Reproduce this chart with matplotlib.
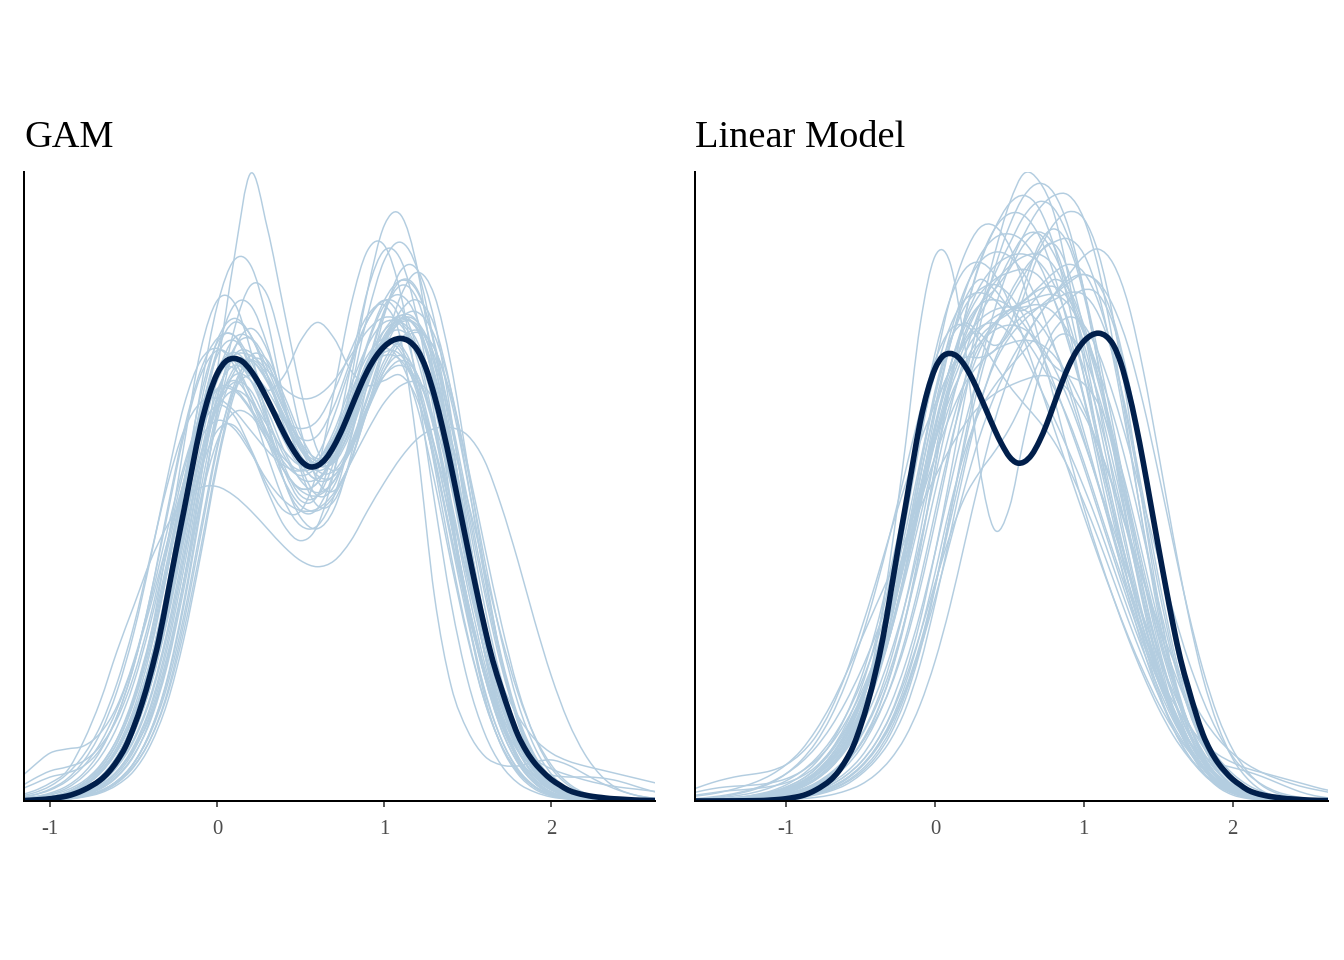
import numpy as np
import matplotlib
matplotlib.use("Agg")
import matplotlib.pyplot as plt
from matplotlib.path import Path
from matplotlib.patches import PathPatch

plt.rcParams['font.family'] = ['Liberation Serif', 'DejaVu Serif']

# densities are stored as density * 786
DENSITY_SCALE = 786.0

TITLES = ["GAM", "Linear Model"]
TICKS = [-1, 0, 1, 2]
TICK_LABELS = ["-1", "0", "1", "2"]

# observed data density (dark line), grid -1.65 .. 2.65 step 0.05
OBS_X = np.round(np.linspace(-1.65, 2.65, 87), 2)
OBS_Y = [0.02, 0.03, 0.04, 0.05, 0.07, 0.1, 0.13, 0.18, 0.25, 0.35,
         0.5, 1, 1.5, 2.3, 3.5, 5, 7.5, 11, 15.5, 21,
         29, 40, 54, 74, 98, 127, 161, 204, 248, 290,
         333, 374, 405, 427, 439, 442, 439, 430, 417, 401,
         384, 367, 352, 340, 334, 335, 342, 355, 372, 392,
         412, 430, 444, 454, 460, 462, 459, 450, 432, 405,
         372, 334, 293, 252, 212, 174, 140, 113, 88, 66,
         50, 38, 29, 21.5, 16, 11, 8, 6, 4.5, 3.5,
         2.5, 2, 1.5, 1, 0.7, 0.5, 0.35]

# GAM replicated densities, grid -1.2 .. 2.7 step 0.1
GAM_X = np.round(np.linspace(-1.2, 2.7, 40), 2)
GAM_REPS = [
    [2, 4, 8, 15, 28, 50, 85, 135, 205, 290, 370, 430, 462, 465, 440, 400, 360, 335, 340, 370, 415, 455, 478, 475, 440, 370, 285, 200, 130, 78, 44, 24, 13, 7, 4, 2, 1, 0.5, 0.3, 0.2],
    [0.5, 1, 2, 4, 8, 16, 30, 52, 85, 140, 220, 320, 430, 541, 627, 572, 490, 410, 350, 330, 350, 390, 425, 440, 425, 375, 300, 220, 150, 95, 56, 30, 15, 7, 3, 1.5, 0.8, 0.4, 0.2, 0.1],
    [1, 2, 4, 8, 15, 28, 50, 85, 140, 215, 310, 410, 495, 540, 535, 480, 400, 330, 295, 300, 340, 395, 440, 460, 445, 395, 320, 240, 165, 105, 62, 34, 17, 8, 4, 2, 1, 0.5, 0.3, 0.2],
    [5, 10, 18, 30, 60, 100, 150, 195, 240, 275, 300, 313, 314, 305, 290, 272, 254, 240, 234, 240, 260, 290, 318, 343, 362, 372, 373, 365, 340, 295, 240, 180, 125, 80, 47, 25, 12, 6, 3, 1.5],
    [1, 2, 4, 9, 18, 35, 62, 105, 165, 240, 320, 390, 430, 440, 425, 400, 380, 372, 380, 410, 450, 485, 495, 460, 350, 205, 115, 70, 45, 36, 35, 39, 41, 36, 27, 18, 11, 6, 3, 1.5],
    [0.5, 1, 2, 5, 11, 22, 42, 75, 125, 190, 265, 330, 370, 375, 350, 310, 275, 260, 275, 330, 420, 510, 575, 585, 530, 420, 295, 185, 105, 55, 27, 12, 5, 2, 1, 0.5, 0.2, 0.1, 0.1, 0.1],
    [20, 35, 48, 52, 55, 68, 95, 140, 200, 270, 335, 385, 410, 410, 390, 360, 330, 310, 305, 320, 355, 395, 425, 435, 420, 380, 315, 240, 165, 105, 60, 32, 16, 8, 4, 2, 1, 0.5, 0.3, 0.2],
    [0.2, 0.5, 1, 2, 5, 10, 20, 38, 70, 122, 200, 295, 385, 450, 472, 450, 395, 335, 305, 315, 365, 435, 490, 520, 510, 455, 365, 265, 175, 105, 58, 30, 14, 6, 3, 1.5, 0.7, 0.3, 0.2, 0.1],
    [4, 8, 15, 27, 46, 75, 118, 175, 245, 315, 370, 398, 402, 390, 370, 350, 335, 330, 345, 385, 435, 480, 500, 480, 420, 335, 245, 165, 100, 56, 29, 14, 6, 3, 1.5, 0.7, 0.3, 0.2, 0.1, 0.1],
    [1, 2, 4, 8, 16, 30, 52, 88, 140, 210, 290, 365, 420, 445, 445, 430, 412, 402, 405, 420, 445, 470, 483, 478, 450, 395, 315, 228, 150, 90, 50, 25, 12, 5, 2, 1, 0.5, 0.2, 0.1, 0.1],
    [1, 2, 4, 8, 16, 30, 54, 92, 150, 228, 318, 405, 458, 465, 430, 375, 320, 283, 272, 292, 345, 418, 485, 530, 530, 480, 385, 275, 175, 100, 52, 25, 11, 5, 2, 1, 0.5, 0.2, 0.1, 0.1],
    [0.5, 1, 3, 6, 12, 24, 45, 80, 132, 200, 275, 345, 392, 410, 400, 375, 350, 335, 340, 365, 400, 430, 445, 440, 410, 355, 290, 225, 165, 118, 85, 62, 48, 40, 35, 31, 27, 23, 19, 15],
    [0.3, 0.6, 1.2, 2.5, 5, 10, 20, 38, 68, 115, 185, 272, 355, 410, 425, 410, 380, 352, 340, 350, 385, 430, 462, 470, 450, 398, 322, 240, 162, 100, 56, 29, 14, 6, 2.5, 1, 0.4, 0.2, 0.1, 0.1],
    [0.2, 0.4, 1, 2.5, 6, 12, 24, 45, 82, 140, 220, 310, 390, 432, 440, 418, 382, 350, 335, 345, 378, 420, 458, 478, 475, 440, 375, 292, 208, 135, 80, 44, 22, 10, 5, 2, 1, 0.5, 0.2, 0.1],
    [0.5, 1, 2, 5, 10, 20, 38, 68, 115, 185, 275, 370, 450, 495, 495, 455, 395, 340, 322, 345, 395, 440, 458, 448, 405, 340, 265, 190, 125, 76, 42, 22, 11, 5, 2.5, 1, 0.5, 0.2, 0.1, 0.1],
    [1, 2, 4, 8, 15, 28, 50, 85, 135, 200, 275, 345, 395, 418, 410, 375, 330, 300, 305, 355, 435, 510, 550, 540, 480, 385, 280, 185, 112, 62, 31, 14, 6, 2.5, 1, 0.5, 0.2, 0.1, 0.1, 0.1],
    [0.5, 1, 2, 4, 9, 18, 34, 60, 102, 165, 245, 330, 395, 425, 420, 390, 350, 320, 308, 320, 352, 395, 435, 462, 470, 452, 405, 335, 255, 178, 112, 64, 33, 16, 7, 3, 1.5, 0.6, 0.3, 0.1],
    [12, 22, 30, 34, 40, 55, 82, 125, 185, 258, 330, 385, 412, 412, 392, 365, 342, 330, 336, 362, 400, 438, 460, 455, 420, 355, 275, 195, 125, 72, 38, 18, 8, 3.5, 1.5, 0.6, 0.3, 0.1, 0.1, 0.1],
    [1, 2, 4, 8, 16, 32, 58, 100, 165, 255, 355, 450, 500, 498, 450, 380, 320, 290, 292, 330, 395, 455, 495, 505, 480, 415, 325, 230, 148, 86, 45, 21, 9, 4, 1.5, 0.6, 0.3, 0.1, 0.1, 0.1],
    [0.5, 1, 2, 5, 10, 20, 38, 68, 115, 180, 260, 345, 410, 435, 425, 410, 425, 460, 478, 462, 430, 415, 420, 425, 400, 340, 260, 180, 110, 62, 32, 15, 7, 3, 1.5, 0.6, 0.3, 0.1, 0.1, 0.1],
    [2, 4, 7, 13, 25, 44, 74, 118, 178, 250, 320, 372, 395, 385, 352, 315, 290, 290, 330, 410, 495, 550, 555, 505, 410, 300, 198, 120, 68, 36, 18, 9, 4, 2, 1, 0.5, 0.2, 0.1, 0.1, 0.1],
    [0.3, 0.6, 1.5, 3, 7, 14, 27, 50, 88, 145, 220, 300, 360, 388, 385, 360, 330, 312, 318, 350, 402, 458, 500, 520, 508, 458, 378, 285, 195, 122, 70, 37, 18, 8, 3.5, 1.5, 0.6, 0.3, 0.1, 0.1],
    [1, 2, 4, 8, 15, 28, 50, 86, 140, 212, 295, 372, 425, 440, 420, 382, 345, 322, 322, 345, 385, 425, 448, 445, 412, 352, 278, 200, 132, 82, 50, 33, 26, 24, 24, 23, 20, 15, 10, 6],
    [10, 17, 24, 28, 35, 52, 85, 135, 205, 285, 365, 425, 450, 440, 405, 365, 330, 312, 318, 350, 395, 435, 452, 438, 392, 320, 238, 162, 100, 56, 29, 14, 6, 2.5, 1, 0.5, 0.2, 0.1, 0.1, 0.1],
    [0.5, 1, 2.5, 5, 11, 22, 42, 76, 128, 205, 300, 395, 460, 482, 465, 425, 385, 362, 365, 395, 440, 480, 500, 492, 450, 375, 285, 198, 125, 72, 38, 18, 8, 3.5, 1.5, 0.6, 0.3, 0.1, 0.1, 0.1],
    [3, 6, 11, 20, 35, 58, 92, 138, 195, 258, 318, 362, 380, 372, 348, 320, 300, 290, 292, 308, 338, 370, 398, 415, 418, 400, 360, 300, 232, 165, 108, 65, 36, 18, 8, 3.5, 1.5, 0.6, 0.3, 0.1],
    [0.5, 1, 2, 4.5, 9, 18, 35, 62, 105, 170, 252, 338, 400, 420, 400, 360, 320, 295, 290, 305, 340, 392, 452, 505, 528, 505, 435, 335, 232, 142, 78, 38, 17, 7, 3, 1, 0.5, 0.2, 0.1, 0.1],
    [0.2, 0.5, 1, 2, 5, 10, 20, 38, 70, 120, 195, 290, 390, 470, 515, 505, 445, 370, 320, 310, 340, 390, 430, 445, 425, 370, 295, 212, 138, 82, 44, 21, 9, 4, 1.5, 0.6, 0.3, 0.1, 0.1, 0.1],
    [2, 3.5, 6, 11, 20, 36, 62, 102, 160, 235, 315, 385, 428, 432, 405, 368, 338, 325, 335, 365, 408, 445, 462, 452, 412, 345, 265, 190, 128, 85, 58, 42, 32, 26, 21, 17, 14, 12, 10, 8],
    [0.5, 1, 2.5, 5, 11, 22, 42, 75, 125, 198, 290, 385, 445, 460, 435, 385, 335, 305, 305, 340, 410, 485, 540, 558, 530, 455, 350, 240, 148, 82, 42, 19, 8, 3, 1.2, 0.5, 0.2, 0.1, 0.1, 0.1],
    [0.2, 0.4, 0.9, 2, 4.5, 9, 18, 34, 62, 108, 178, 265, 352, 415, 440, 425, 390, 355, 335, 340, 375, 425, 465, 482, 470, 425, 350, 262, 178, 110, 62, 32, 15, 6.5, 2.5, 1, 0.4, 0.2, 0.1, 0.1],
    [0.2, 0.4, 0.8, 1.8, 4, 8, 16, 30, 56, 98, 162, 245, 335, 405, 440, 435, 400, 358, 330, 330, 358, 405, 455, 490, 500, 475, 410, 320, 225, 145, 85, 46, 23, 10, 4, 1.5, 0.6, 0.2, 0.1, 0.1],
    [0.3, 0.7, 1.5, 3, 6.5, 13, 25, 46, 80, 135, 212, 300, 380, 428, 440, 420, 385, 352, 335, 340, 372, 420, 462, 485, 478, 435, 360, 270, 182, 110, 60, 30, 14, 6, 2.5, 1, 0.4, 0.2, 0.1, 0.1],
    [0.5, 1, 2.5, 5.5, 12, 24, 45, 80, 132, 205, 295, 385, 450, 478, 465, 425, 375, 338, 320, 325, 352, 392, 430, 458, 468, 452, 400, 318, 225, 142, 80, 40, 18, 7, 3, 1, 0.4, 0.2, 0.1, 0.1],
    [1, 2, 4, 9, 18, 33, 58, 98, 155, 230, 312, 385, 432, 448, 432, 398, 362, 338, 335, 355, 395, 440, 470, 478, 458, 405, 325, 238, 158, 95, 52, 26, 12, 5, 2, 0.8, 0.3, 0.1, 0.1, 0.1],
    [3, 6, 12, 22, 40, 68, 110, 168, 242, 322, 395, 440, 452, 435, 395, 345, 300, 275, 275, 305, 362, 430, 488, 515, 500, 440, 345, 240, 148, 82, 40, 18, 7, 3, 1, 0.4, 0.2, 0.1, 0.1, 0.1],
    [0.5, 1, 2, 4.5, 10, 20, 38, 68, 115, 182, 268, 355, 425, 462, 462, 432, 392, 358, 342, 350, 382, 425, 462, 482, 478, 445, 382, 300, 215, 140, 82, 44, 21, 9, 4, 1.5, 0.6, 0.2, 0.1, 0.1],
    [0.2, 0.5, 1, 2.2, 5, 10, 19, 35, 62, 105, 170, 252, 340, 410, 445, 440, 405, 365, 338, 338, 368, 415, 458, 480, 472, 428, 352, 262, 176, 106, 58, 28, 12, 5, 2, 0.8, 0.3, 0.1, 0.1, 0.1],
    [0.3, 0.7, 1.5, 3.5, 7.5, 15, 29, 53, 92, 152, 232, 322, 402, 452, 462, 438, 395, 352, 325, 325, 355, 402, 450, 482, 488, 465, 410, 330, 242, 162, 98, 54, 27, 12, 5, 2, 0.8, 0.3, 0.1, 0.1],
    [0.5, 1, 2, 4, 8, 16, 30, 55, 95, 158, 240, 330, 405, 445, 448, 420, 380, 345, 330, 342, 380, 430, 470, 485, 470, 420, 342, 255, 172, 105, 58, 29, 13, 5.5, 2.2, 0.9, 0.4, 0.2, 0.1, 0.1],
]

# Linear model replicated densities, grid -1.7 .. 2.7 step 0.1
LM_X = np.round(np.linspace(-1.7, 2.7, 45), 2)
LM_REPS = [
    [0.5, 1, 1.5, 2, 3, 5, 8, 12, 18, 28, 42, 62, 90, 125, 170, 225, 290, 355, 410, 450, 480, 505, 535, 558, 560, 540, 505, 465, 425, 380, 325, 262, 198, 140, 92, 57, 33, 18, 9, 4.5, 2, 1, 0.5, 0.2, 0.1],
    [0.1, 0.2, 0.4, 0.7, 1.2, 2, 3.5, 6, 10, 16, 25, 38, 56, 80, 112, 155, 210, 275, 345, 415, 480, 540, 590, 620, 612, 580, 515, 435, 355, 282, 215, 158, 110, 72, 45, 27, 15, 8, 4, 2, 1, 0.5, 0.2, 0.1, 0.1],
    [0.2, 0.4, 0.7, 1.2, 2, 3.5, 6, 10, 16, 25, 38, 58, 90, 150, 240, 350, 470, 538, 532, 450, 330, 268, 290, 360, 420, 455, 460, 440, 400, 345, 280, 210, 145, 92, 54, 29, 14, 6, 2.5, 1, 0.5, 0.2, 0.1, 0.1, 0.1],
    [0.3, 0.5, 0.8, 1.3, 2, 3.5, 6, 9, 14, 22, 33, 50, 73, 104, 145, 195, 255, 320, 385, 440, 485, 520, 550, 578, 592, 585, 555, 505, 440, 368, 292, 220, 155, 102, 62, 35, 18, 9, 4, 2, 1, 0.4, 0.2, 0.1, 0.1],
    [0.1, 0.2, 0.3, 0.5, 0.9, 1.5, 2.5, 4, 7, 11, 18, 28, 43, 65, 95, 135, 185, 245, 310, 372, 425, 465, 495, 520, 545, 570, 582, 575, 540, 475, 385, 288, 198, 125, 72, 38, 18, 8, 3.5, 1.5, 0.6, 0.3, 0.1, 0.1, 0.1],
    [8, 13, 18, 22, 25, 27, 30, 36, 47, 64, 90, 125, 168, 215, 265, 312, 355, 392, 425, 452, 468, 472, 462, 440, 410, 378, 345, 310, 272, 230, 188, 148, 112, 80, 54, 34, 20, 11, 5.5, 2.5, 1, 0.5, 0.2, 0.1, 0.1],
    [0.5, 0.8, 1.2, 2, 3, 5, 8, 12, 19, 29, 44, 65, 95, 135, 185, 248, 318, 390, 450, 495, 515, 505, 488, 485, 500, 515, 505, 470, 418, 355, 288, 222, 162, 112, 72, 44, 25, 13, 6.5, 3, 1.3, 0.6, 0.2, 0.1, 0.1],
    [0.1, 0.1, 0.2, 0.3, 0.5, 0.8, 1.3, 2, 3.5, 6, 10, 16, 26, 40, 60, 90, 135, 195, 262, 330, 390, 435, 465, 480, 488, 495, 502, 500, 480, 438, 375, 300, 222, 152, 96, 56, 30, 15, 7, 3, 1.2, 0.5, 0.2, 0.1, 0.1],
    [1.5, 2.5, 4, 6, 9, 13, 19, 27, 38, 53, 73, 98, 128, 163, 203, 248, 295, 340, 380, 412, 432, 445, 452, 455, 452, 440, 418, 388, 350, 308, 262, 218, 176, 140, 108, 82, 62, 47, 36, 28, 22, 17, 13, 10, 7],
    [0.3, 0.5, 0.9, 1.5, 2.5, 4, 7, 11, 18, 28, 44, 66, 97, 138, 190, 255, 328, 400, 460, 505, 532, 542, 538, 520, 490, 450, 405, 358, 310, 262, 215, 170, 128, 92, 62, 40, 24, 14, 7, 3.5, 1.6, 0.7, 0.3, 0.1, 0.1],
    [0.2, 0.4, 0.7, 1.2, 2, 3.2, 5, 8, 13, 21, 33, 52, 80, 120, 175, 245, 320, 385, 425, 438, 438, 445, 470, 510, 550, 565, 548, 500, 430, 350, 270, 198, 138, 90, 56, 32, 17, 8.5, 4, 1.8, 0.8, 0.3, 0.1, 0.1, 0.1],
    [3, 5, 7, 10, 14, 19, 26, 36, 50, 70, 95, 125, 158, 192, 225, 258, 290, 320, 348, 372, 390, 402, 410, 416, 420, 418, 405, 382, 350, 310, 265, 218, 172, 130, 94, 65, 43, 27, 16, 9, 5, 2.5, 1.2, 0.6, 0.3],
    [0.2, 0.3, 0.5, 0.9, 1.5, 2.5, 4, 6.5, 10, 16, 25, 38, 57, 85, 125, 180, 250, 330, 410, 478, 530, 565, 590, 598, 585, 548, 490, 420, 350, 285, 225, 170, 122, 83, 53, 32, 18, 9.5, 4.5, 2, 0.9, 0.4, 0.2, 0.1, 0.1],
    [0.1, 0.1, 0.2, 0.3, 0.6, 1, 1.7, 3, 5, 8, 13, 21, 33, 50, 74, 108, 150, 200, 255, 310, 360, 400, 432, 458, 480, 500, 515, 520, 512, 488, 448, 392, 325, 255, 188, 130, 84, 51, 29, 15, 7.5, 3.5, 1.5, 0.6, 0.3],
    [0.5, 0.9, 1.5, 2.5, 4, 6.5, 10, 16, 25, 38, 57, 84, 120, 168, 228, 295, 362, 422, 468, 495, 502, 495, 478, 458, 435, 408, 375, 335, 290, 245, 202, 160, 122, 88, 60, 38, 22, 12, 6, 2.8, 1.2, 0.5, 0.2, 0.1, 0.1],
    [0.3, 0.5, 0.8, 1.3, 2.2, 3.5, 5.5, 9, 14, 22, 35, 54, 82, 122, 178, 250, 330, 405, 455, 472, 462, 450, 462, 500, 540, 550, 522, 465, 392, 315, 245, 182, 130, 88, 57, 34, 19, 10, 5, 2.3, 1, 0.4, 0.2, 0.1, 0.1],
    [0.5, 1, 1.5, 2.5, 4, 6, 9, 14, 21, 32, 48, 70, 100, 140, 190, 248, 310, 370, 420, 455, 475, 485, 488, 485, 472, 448, 412, 365, 312, 258, 208, 165, 128, 98, 75, 58, 46, 38, 32, 28, 24, 20, 16, 12, 9],
    [0.2, 0.3, 0.5, 0.8, 1.3, 2, 3.3, 5.5, 9, 14, 22, 34, 52, 78, 113, 160, 218, 285, 350, 405, 445, 470, 485, 495, 508, 522, 530, 522, 492, 440, 370, 290, 212, 145, 92, 55, 30, 15, 7, 3, 1.2, 0.5, 0.2, 0.1, 0.1],
    [0.2, 0.4, 0.7, 1.2, 2, 3.5, 6, 10, 16, 26, 41, 63, 95, 140, 200, 275, 355, 430, 495, 540, 566, 568, 548, 508, 455, 398, 342, 290, 243, 200, 160, 124, 92, 65, 44, 28, 17, 9.5, 5, 2.5, 1.2, 0.5, 0.2, 0.1, 0.1],
    [0.1, 0.1, 0.2, 0.4, 0.7, 1.2, 2, 3.3, 5.5, 9, 14, 22, 34, 52, 78, 115, 165, 225, 290, 345, 385, 410, 428, 445, 462, 480, 495, 505, 500, 470, 410, 330, 245, 165, 102, 58, 30, 14, 6, 2.5, 1, 0.4, 0.2, 0.1, 0.1],
    [6, 9, 12, 14, 15, 16, 18, 22, 29, 40, 56, 78, 106, 142, 186, 238, 298, 360, 415, 458, 490, 512, 528, 538, 540, 528, 498, 452, 395, 332, 268, 206, 150, 104, 68, 42, 24, 13, 6.5, 3, 1.3, 0.5, 0.2, 0.1, 0.1],
    [0.1, 0.2, 0.3, 0.5, 0.9, 1.5, 2.5, 4, 6.5, 10, 16, 25, 38, 57, 84, 120, 165, 215, 262, 300, 325, 345, 368, 398, 435, 465, 478, 470, 442, 400, 350, 295, 240, 188, 140, 100, 68, 44, 27, 16, 9, 5, 2.5, 1.2, 0.6],
    [0.3, 0.5, 0.8, 1.3, 2.2, 3.5, 5.5, 9, 14, 22, 34, 52, 78, 115, 165, 230, 305, 382, 450, 502, 538, 556, 560, 552, 530, 495, 450, 398, 342, 285, 230, 178, 132, 93, 62, 39, 23, 13, 6.5, 3, 1.4, 0.6, 0.2, 0.1, 0.1],
    [0.4, 0.7, 1.1, 1.8, 2.8, 4.4, 7, 11, 17, 26, 39, 58, 85, 120, 165, 220, 280, 340, 392, 432, 458, 472, 482, 494, 505, 508, 495, 462, 412, 350, 285, 222, 165, 117, 78, 49, 29, 16, 8, 4, 1.8, 0.8, 0.3, 0.1, 0.1],
    [0.1, 0.1, 0.2, 0.3, 0.5, 0.9, 1.5, 2.5, 4, 7, 11, 18, 28, 43, 66, 100, 148, 210, 282, 358, 428, 485, 528, 560, 585, 598, 598, 575, 525, 450, 360, 268, 185, 118, 70, 38, 19, 9, 4, 1.6, 0.6, 0.2, 0.1, 0.1, 0.1],
    [1, 1.8, 3, 5, 8, 12, 18, 27, 40, 58, 83, 116, 158, 208, 265, 325, 385, 435, 465, 470, 455, 432, 410, 392, 375, 355, 328, 295, 258, 218, 178, 140, 105, 75, 51, 33, 20, 11, 6, 3, 1.4, 0.6, 0.3, 0.1, 0.1],
    [0.1, 0.1, 0.1, 0.2, 0.3, 0.5, 0.8, 1.3, 2.2, 3.6, 6, 10, 16, 26, 41, 63, 95, 138, 192, 255, 318, 375, 420, 455, 480, 500, 520, 538, 545, 530, 490, 425, 345, 262, 186, 122, 75, 42, 22, 10, 4.5, 1.8, 0.7, 0.3, 0.1],
    [0.3, 0.6, 1, 1.6, 2.6, 4.2, 6.7, 10.5, 16, 25, 38, 57, 84, 120, 168, 228, 298, 368, 428, 472, 500, 515, 522, 525, 518, 495, 455, 400, 338, 275, 215, 162, 118, 84, 60, 45, 37, 33, 29, 24, 18, 12, 7, 4, 2],
    [0.3, 0.6, 1, 1.7, 2.8, 4.5, 7, 11, 17, 26, 40, 60, 88, 126, 176, 238, 305, 372, 428, 468, 490, 495, 488, 470, 448, 430, 420, 412, 392, 355, 302, 240, 178, 122, 78, 46, 25, 13, 6, 2.7, 1.1, 0.4, 0.2, 0.1, 0.1],
    [0.1, 0.2, 0.3, 0.5, 0.8, 1.3, 2.2, 3.6, 6, 10, 16, 25, 38, 57, 85, 125, 178, 245, 320, 398, 468, 525, 568, 598, 610, 600, 565, 505, 428, 345, 265, 193, 133, 86, 52, 29, 15, 7.5, 3.4, 1.5, 0.6, 0.2, 0.1, 0.1, 0.1],
    [0.3, 0.5, 0.9, 1.5, 2.4, 3.8, 6, 9.5, 15, 23, 36, 55, 82, 118, 165, 225, 295, 365, 428, 475, 508, 528, 538, 540, 532, 510, 472, 420, 358, 292, 228, 170, 122, 83, 54, 33, 19, 10, 5, 2.3, 1, 0.4, 0.2, 0.1, 0.1],
    [0.2, 0.4, 0.6, 1, 1.7, 2.8, 4.5, 7.2, 11.5, 18, 28, 42, 63, 92, 130, 180, 240, 305, 365, 415, 450, 472, 485, 492, 498, 500, 490, 462, 418, 360, 295, 230, 170, 118, 78, 48, 28, 15, 7.5, 3.5, 1.5, 0.6, 0.2, 0.1, 0.1],
    [0.2, 0.3, 0.5, 0.9, 1.5, 2.5, 4, 6.5, 10.5, 17, 27, 42, 64, 95, 138, 195, 265, 342, 412, 462, 490, 505, 525, 550, 562, 548, 505, 445, 375, 305, 238, 178, 127, 86, 55, 33, 19, 10, 4.8, 2.2, 1, 0.4, 0.2, 0.1, 0.1],
    [1, 1.6, 2.6, 4, 6, 9, 13.5, 20, 29, 42, 60, 84, 115, 154, 200, 252, 305, 355, 398, 430, 452, 465, 470, 466, 452, 428, 395, 355, 312, 268, 224, 182, 143, 108, 78, 54, 35, 22, 13, 7, 3.5, 1.7, 0.8, 0.4, 0.2],
    [0.1, 0.2, 0.4, 0.7, 1.2, 2, 3.4, 5.6, 9, 15, 24, 37, 56, 84, 124, 178, 248, 328, 408, 478, 532, 565, 580, 578, 558, 520, 465, 398, 328, 262, 202, 150, 106, 72, 46, 28, 16, 8.5, 4.2, 2, 0.9, 0.4, 0.2, 0.1, 0.1],
    [0.1, 0.2, 0.3, 0.5, 0.8, 1.3, 2.1, 3.4, 5.5, 9, 14, 22, 34, 51, 76, 110, 155, 212, 275, 338, 392, 432, 458, 475, 488, 500, 512, 520, 510, 475, 415, 338, 255, 178, 115, 68, 37, 18, 8.5, 3.7, 1.5, 0.6, 0.2, 0.1, 0.1],
    [0.4, 0.7, 1.2, 2, 3.2, 5, 8, 12.5, 19, 29, 45, 68, 100, 144, 200, 265, 335, 400, 452, 488, 505, 510, 500, 478, 448, 412, 372, 330, 285, 240, 196, 155, 118, 86, 60, 40, 25, 15, 8, 4, 2, 0.9, 0.4, 0.2, 0.1],
    [0.1, 0.1, 0.2, 0.4, 0.6, 1, 1.7, 2.8, 4.6, 7.5, 12, 19, 30, 46, 70, 105, 152, 212, 282, 352, 415, 465, 500, 525, 542, 552, 555, 540, 500, 435, 355, 270, 192, 127, 78, 44, 23, 11, 5, 2, 0.8, 0.3, 0.1, 0.1, 0.1],
    [4, 6, 8, 10, 11, 12.5, 14.5, 18, 24, 34, 50, 72, 102, 140, 186, 240, 298, 355, 405, 442, 465, 478, 485, 488, 490, 482, 462, 428, 380, 322, 260, 200, 146, 102, 67, 42, 25, 14, 7, 3.4, 1.5, 0.6, 0.2, 0.1, 0.1],
    [0.4, 0.7, 1.2, 2, 3.3, 5.3, 8.5, 13.5, 21, 32, 50, 75, 110, 158, 220, 292, 370, 442, 495, 525, 532, 520, 492, 455, 412, 368, 325, 282, 240, 200, 162, 128, 97, 71, 50, 33, 21, 12.5, 7, 3.6, 1.7, 0.8, 0.3, 0.1, 0.1],
]

PANELS = [
    (TITLES[0], GAM_X, GAM_REPS, (-1.1575, 2.621)),
    (TITLES[1], LM_X, LM_REPS, (-1.613, 2.641)),
]

YREP_COLOR = "#b3cde0"
Y_COLOR = "#011f4b"


def smooth_path(xs, ys):
    """Smooth (Catmull-Rom as cubic Bezier) path through the data points."""
    pts = np.column_stack([np.asarray(xs, float), np.asarray(ys, float)])
    ext = np.vstack([pts[0], pts, pts[-1]])
    verts = [pts[0]]
    codes = [Path.MOVETO]
    for i in range(len(pts) - 1):
        p0, p1, p2, p3 = ext[i], ext[i + 1], ext[i + 2], ext[i + 3]
        verts += [p1 + (p2 - p0) / 6.0, p2 - (p3 - p1) / 6.0, p2]
        codes += [Path.CURVE4] * 3
    return Path(np.array(verts), codes)


fig = plt.figure(figsize=(7, 5), dpi=192)
positions = [
    [24 / 1344, 1 - 801 / 960, (655 - 24) / 1344, (801 - 172) / 960],
    [695 / 1344, 1 - 801 / 960, (1328 - 695) / 1344, (801 - 172) / 960],
]

obs = np.array(OBS_Y) / DENSITY_SCALE
for pos, (title, xs, reps, xlim) in zip(positions, PANELS):
    ax = fig.add_axes(pos)
    for rep in reps:
        ax.add_patch(PathPatch(smooth_path(xs, np.array(rep) / DENSITY_SCALE),
                               fill=False, edgecolor=YREP_COLOR, lw=0.55,
                               zorder=1, joinstyle='round'))
    ax.add_patch(PathPatch(smooth_path(OBS_X, obs), fill=False,
                           edgecolor=Y_COLOR, lw=2.1, zorder=3,
                           capstyle='round', joinstyle='round'))
    ymax = max(max(r) for r in reps) / DENSITY_SCALE
    ax.set_ylim(0, ymax * 1.002)
    ax.set_xlim(*xlim)
    for s in ['top', 'right']:
        ax.spines[s].set_visible(False)
    for s in ['left', 'bottom']:
        ax.spines[s].set_linewidth(0.75)
        ax.spines[s].set_color('black')
        ax.spines[s].set_zorder(5)
    ax.set_yticks([])
    ax.set_xticks(TICKS, TICK_LABELS)
    ax.tick_params(axis='x', length=2.3, width=0.6, color='#333333',
                   labelcolor='#4d4d4d', labelsize=7.8, pad=5.0)
    ax.set_title(title, loc='left', fontsize=14.4, pad=9.4, color='black')
    ax.patch.set_alpha(0)

fig.savefig("out.png", dpi=192, facecolor='white')
